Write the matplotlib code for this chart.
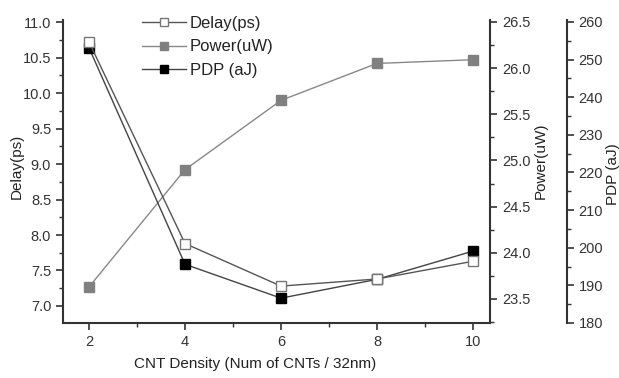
import matplotlib
matplotlib.use("Agg")
import matplotlib.pyplot as plt
from matplotlib.ticker import MultipleLocator

plt.rcParams["font.family"] = ["Liberation Sans", "DejaVu Sans"]

density = [2, 4, 6, 8, 10]
delay = [10.72, 7.88, 7.28, 7.38, 7.63]
power = [23.63, 24.90, 25.65, 26.05, 26.09]
pdp = [253.1, 195.6, 186.6, 191.6, 199.1]

fig = plt.figure(figsize=(6.19, 3.78), dpi=100)
ax = fig.add_axes([63/619, 1-323/378, 427/619, 303/378])
par1 = ax.twinx()
par2 = ax.twinx()

spine_col = "#333333"
txt_col = "#333333"

l1, = ax.plot(density, delay, color="#555555", lw=1, marker="s", ms=7,
              mfc="white", mec="#777777", mew=1, label="Delay(ps)", zorder=3)
l2, = par1.plot(density, power, color="#888888", lw=1, marker="s", ms=7,
                mfc="#808080", mec="#808080", label="Power(uW)", zorder=3)
l3, = par2.plot(density, pdp, color="#444444", lw=1, marker="s", ms=7,
                mfc="black", mec="black", label="PDP (aJ)", zorder=3)

ax.set_xlim(1.458, 10.354)
ax.set_ylim(6.76, 11.03)
par1.set_ylim(23.24, 26.52)
par2.set_ylim(180, 260.5)

ax.xaxis.set_major_locator(MultipleLocator(2))
ax.xaxis.set_minor_locator(MultipleLocator(1))
ax.yaxis.set_major_locator(MultipleLocator(0.5))
ax.yaxis.set_minor_locator(MultipleLocator(0.25))
par1.yaxis.set_major_locator(MultipleLocator(0.5))
par1.yaxis.set_minor_locator(MultipleLocator(0.25))
par2.yaxis.set_major_locator(MultipleLocator(10))
par2.yaxis.set_minor_locator(MultipleLocator(5))

for a in (ax, par1, par2):
    a.spines["top"].set_visible(False)
    for s in a.spines.values():
        s.set_linewidth(1.5)
        s.set_color(spine_col)
    a.tick_params(which="major", direction="out", length=5, width=1.2,
                  color=spine_col, labelsize=10.5, labelcolor=txt_col)
    a.tick_params(which="minor", direction="out", length=3, width=1,
                  color=spine_col)

ax.spines["right"].set_visible(False)
par1.spines["left"].set_visible(False)
par1.spines["bottom"].set_visible(False)
par2.spines["left"].set_visible(False)
par2.spines["bottom"].set_visible(False)
par2.spines["right"].set_position(("axes", 1.18))

ax.yaxis.set_major_formatter(matplotlib.ticker.FormatStrFormatter("%.1f"))
par1.yaxis.set_major_formatter(matplotlib.ticker.FormatStrFormatter("%.1f"))

ax.set_xlabel("CNT Density (Num of CNTs / 32nm)", fontsize=11, color="#222222")
ax.set_ylabel("Delay(ps)", fontsize=11, color="#222222")
par1.set_ylabel("Power(uW)", fontsize=11, color="#222222")
par2.set_ylabel("PDP (aJ)", fontsize=11, color="#222222")
ax.xaxis.set_label_coords(0.45, -0.112)
ax.yaxis.set_label_coords(-0.091, 0.518)
par1.yaxis.set_label_coords(1.103, 0.535)
par2.yaxis.set_label_coords(1.272, 0.49)

leg = ax.legend(handles=[l1, l2, l3], loc="upper left",
                bbox_to_anchor=(0.17, 1.035), frameon=False, fontsize=12,
                handlelength=2.6, handletextpad=0.25, labelspacing=0.5,
                markerscale=0.8, borderaxespad=0)
for t in leg.get_texts():
    t.set_color("#222222")

ax.set_zorder(par2.get_zorder() + 1)
ax.patch.set_visible(False)

fig.savefig("out.png", dpi=100)
